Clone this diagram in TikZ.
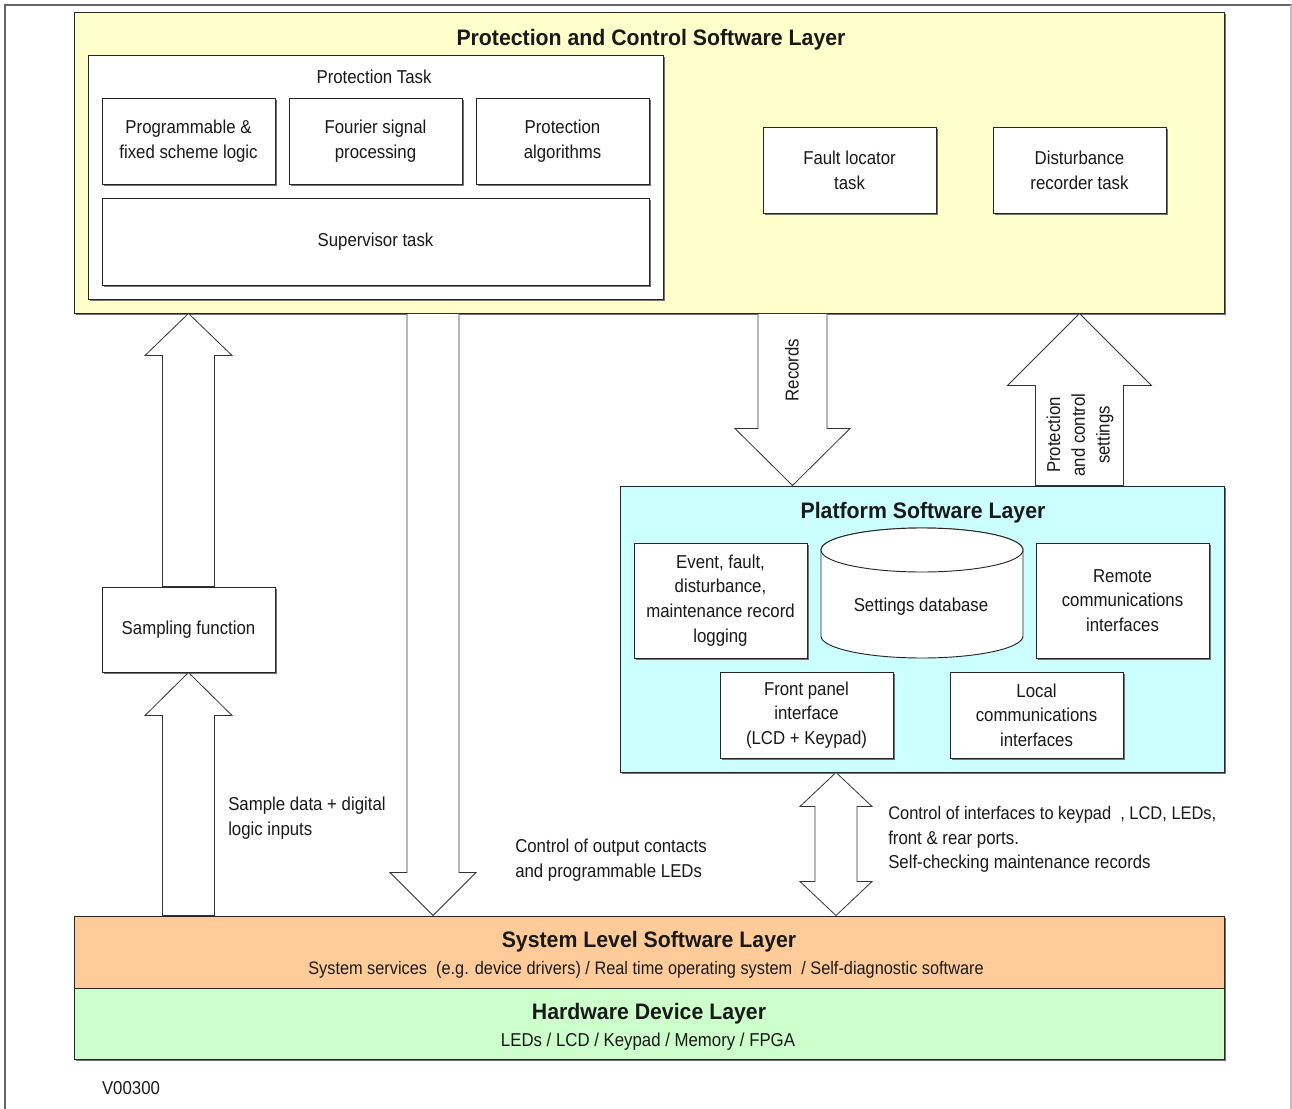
\documentclass[tikz,border=0pt]{standalone}
\usepackage{fontspec}
\setmainfont{Liberation Sans}[FakeStretch=0.9,BoldFeatures={FakeStretch=0.95}]
\usetikzlibrary{calc,shadows}

\definecolor{pclfill}{HTML}{FFFFCC}
\definecolor{platfill}{HTML}{CCFFFF}
\definecolor{sysfill}{HTML}{FFCC99}
\definecolor{hwfill}{HTML}{CCFFCC}

\tikzset{
  every node/.style={font=\fontsize{14}{18.5}\selectfont, text=black!90},
  % rectangle given by its corners in pixel units
  rect/.style n args={4}{minimum width={(#3-#1)*0.75pt}, minimum height={(#4-#2)*0.75pt},
    at={({(#1+#3)/2},{(#2+#4)/2})}},
  layer/.style={draw=black!85, line width=0.7pt, inner sep=0pt, rectangle,
    drop shadow={shadow xshift=1.6pt, shadow yshift=-1.6pt, fill=black!55, opacity=1}},
  box/.style={layer, fill=white, align=center},
  title/.style={font=\fontsize{16.8}{20}\selectfont\bfseries},
  blockarrow/.style={draw=black!80, line width=0.6pt, fill=white, line join=miter},
  note/.style={align=left, inner sep=0pt, anchor=west},
  cyl/.style={draw=black!85, line width=0.7pt, fill=white},
}

% vertical block arrow: tail, tip, shaft half width, head half width, head length
\newcommand\blockarrow[5]{%
  \draw[blockarrow] let \p1=(#1), \p2=(#2), \p3=($(#2)!#5!(#1)$) in
    (\x2-#3,\y1) -- (\x2-#3,\y3) -- (\x2-#4,\y3) -- (\p2) -- (\x2+#4,\y3)
    -- (\x2+#3,\y3) -- (\x2+#3,\y1) -- cycle;}
% vertical double-headed block arrow: lower tip, upper tip, shaft half width, head half width, head length
\newcommand\blockdouble[5]{%
  \draw[blockarrow] let \p1=(#1), \p2=(#2), \p3=($(#2)!#5!(#1)$), \p4=($(#1)!#5!(#2)$) in
    (\p2) -- (\x2+#4,\y3) -- (\x2+#3,\y3) -- (\x2+#3,\y4) -- (\x2+#4,\y4) -- (\x2,\y1)
    -- (\x2-#4,\y4) -- (\x2-#3,\y4) -- (\x2-#3,\y3) -- (\x2-#4,\y3) -- cycle;}

\begin{document}
\begin{tikzpicture}[x=0.75pt, y=-0.75pt]
\useasboundingbox (0,0) rectangle (1292,1109);

% page frame
\draw[black!60, line width=1.5pt] (5,1109) -- (5,5) -- (1292,5);
\draw[black!25, line width=0.8pt] (1291,5) -- (1291,1109);

% protection and control software layer
\node[layer, fill=pclfill, rect={74}{12}{1224}{313}] (pcl) {};
\node[title] (pcltitle) at (651,40) {Protection and Control Software Layer};
\node[box, rect={88}{55}{663}{299}] (ptask) {};
\node (ptasklbl) at (374,77) {Protection Task};
\node[box, rect={102}{98}{275}{184}] (prog) {Programmable \&\\fixed scheme logic};
\node[box, rect={289}{98}{462}{184}] (fourier) {Fourier signal\\processing};
\node[box, rect={476}{98}{649}{184}] (palg) {Protection\\algorithms};
\node[box, rect={102}{198}{649}{285}] (super) {Supervisor task};
\node[box, rect={763}{127}{936}{213}] (fault) {Fault locator\\task};
\node[box, rect={993}{127}{1166}{213}] (dist) {Disturbance\\recorder task};

% platform software layer
\node[layer, fill=platfill, rect={620}{486}{1224}{772}] (plat) {};
\node[title] (plattitle) at (923,513) {Platform Software Layer};
\node[box, rect={634}{543}{807}{658}] (event) {Event, fault,\\disturbance,\\maintenance record\\logging};
\filldraw[cyl] (821,550) -- (821,636)
  arc[start angle=180, end angle=360, x radius=75.75pt, y radius=16.5pt]
  -- (1023,550)
  arc[start angle=0, end angle=180, x radius=75.75pt, y radius=16.5pt] -- cycle;
\draw[cyl] (922,550) ellipse[x radius=75.75pt, y radius=16.5pt];
\node (db) at (921,607) {Settings database};
\node[box, rect={1036}{543}{1209}{658}] (remote) {Remote\\communications\\interfaces};
\node[box, rect={720}{672}{893}{758}] (front) {Front panel\\interface\\(LCD + Keypad)};
\node[box, rect={950}{672}{1123}{758}] (local) {Local\\communications\\interfaces};

% sampling
\node[box, rect={102}{587}{275}{672}] (samp) {Sampling function};

% system level and hardware layers
\node[layer, fill=sysfill, rect={74}{916}{1224}{988}] (sys) {};
\node[title] (systitle) at (649,942) {System Level Software Layer};
\node (sysdesc) at (646,970) {\fontsize{13.6}{18}\selectfont System services\ \ (e.g. device drivers) / Real time operating system\ \ / Self-diagnostic software};
\node[layer, fill=hwfill, rect={74}{988}{1224}{1059}] (hw) {};
\node[title] (hwtitle) at (649,1014) {Hardware Device Layer};
\node (hwdesc) at (648,1042) {LEDs / LCD / Keypad / Memory / FPGA};

% arrow columns
\coordinate (xout) at (433,0);
\coordinate (xrec) at (792.5,0);
\coordinate (xif) at (836,0);

% block arrows
\blockarrow{samp.north}{pcl.south -| samp.north}{19.5pt}{32.6pt}{31.5pt}
\blockarrow{sys.north -| samp.south}{samp.south}{19.5pt}{32.6pt}{32.25pt}
\blockarrow{pcl.south -| xout}{sys.north -| xout}{19.5pt}{32.25pt}{32.25pt}
\blockarrow{pcl.south -| xrec}{plat.north -| xrec}{25.9pt}{43.1pt}{42.75pt}
\blockarrow{plat.north -| dist.south}{pcl.south -| dist.south}{33pt}{54pt}{54pt}
\blockdouble{sys.north -| xif}{plat.south -| xif}{15.75pt}{27pt}{25.5pt}

% arrow labels
\node[rotate=90] (reclbl) at (792,370) {Records};
\node[rotate=90, align=center] (setlbl) at (1080,435) {Protection\\and control\\settings};
\node[note] (samplbl) at (228,818.5) {Sample data + digital\\logic inputs};
\node[note] (outlbl) at (515,860.5) {Control of output contacts\\and programmable LEDs};
\node[note] (iflbl) at (888,839.5) {\fontsize{13.7}{18}\selectfont Control of interfaces to keypad\ \ , LCD, LEDs,\\front \& rear ports.\\Self-checking maintenance records};

% drawing reference
\node (ref) at (131,1088) {V00300};
\end{tikzpicture}
\end{document}
